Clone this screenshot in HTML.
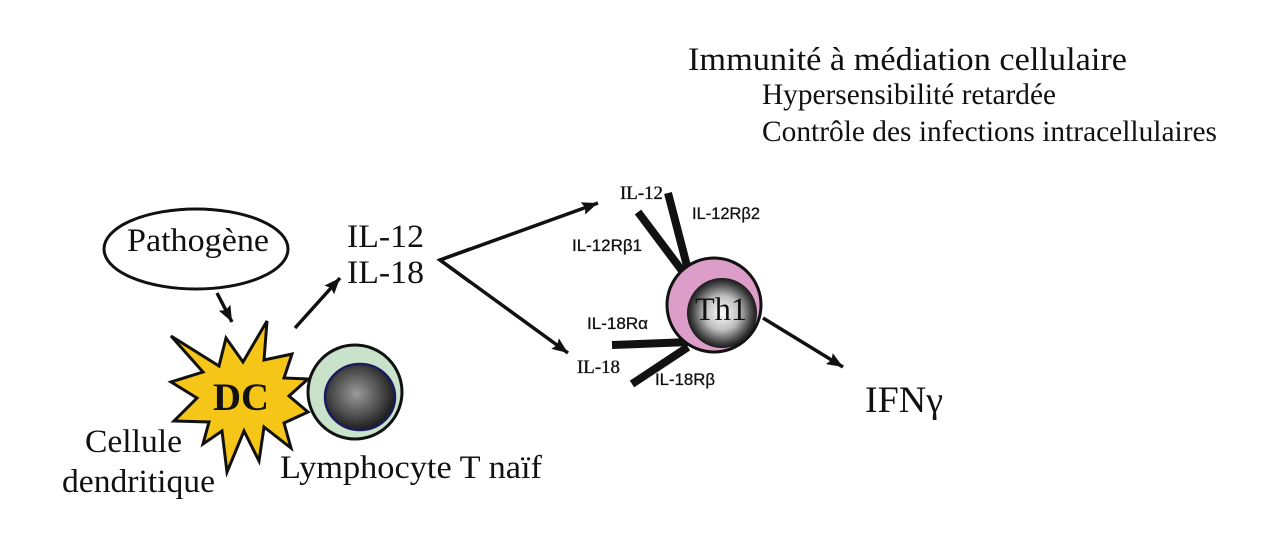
<!DOCTYPE html>
<html>
<head>
<meta charset="utf-8">
<style>
  html,body{margin:0;padding:0;background:#fff;}
  svg{display:block;}
  .serif{font-family:"Liberation Serif","Times New Roman",serif;fill:#111;}
  .sans{font-family:"Liberation Sans","DejaVu Sans",sans-serif;fill:#111;}
</style>
</head>
<body>
<svg width="1280" height="534" viewBox="0 0 1280 534" xmlns="http://www.w3.org/2000/svg">
  <defs>
    <marker id="ah" markerUnits="userSpaceOnUse" markerWidth="18" markerHeight="14" refX="16" refY="6.5" orient="auto">
      <path d="M0,0 L16,6.5 L0,13 L2.5,6.5 z" fill="#111"/>
    </marker>
    <radialGradient id="nucL" cx="45%" cy="45%" r="60%">
      <stop offset="0" stop-color="#9a9a9a"/>
      <stop offset="0.6" stop-color="#4a4a4a"/>
      <stop offset="1" stop-color="#111"/>
    </radialGradient>
    <radialGradient id="nucT" cx="50%" cy="50%" r="55%">
      <stop offset="0" stop-color="#ffffff"/>
      <stop offset="0.45" stop-color="#bdbdbd"/>
      <stop offset="0.8" stop-color="#3a3a3a"/>
      <stop offset="1" stop-color="#000"/>
    </radialGradient>
  </defs>

  <!-- Top right text -->
  <text class="serif" x="688" y="70" font-size="33" textLength="439" lengthAdjust="spacingAndGlyphs">Immunité à médiation cellulaire</text>
  <text class="serif" x="762" y="104" font-size="29.5" textLength="294" lengthAdjust="spacingAndGlyphs">Hypersensibilité retardée</text>
  <text class="serif" x="762" y="141" font-size="29.5" textLength="455" lengthAdjust="spacingAndGlyphs">Contrôle des infections intracellulaires</text>

  <!-- Pathogène -->
  <ellipse cx="196" cy="249" rx="92" ry="40" fill="#fff" stroke="#111" stroke-width="3"/>
  <text class="serif" x="127" y="251" font-size="33" textLength="142" lengthAdjust="spacingAndGlyphs">Pathogène</text>

  <!-- Arrow pathogène -> DC -->
  <line x1="217" y1="293" x2="232" y2="322" stroke="#111" stroke-width="3.5" marker-end="url(#ah)"/>

  <!-- DC star -->
  <polygon points="171,336 219,366 226,338 243,362 267,321 264,360 292,354 284,378 308,379 289,396 308,412 284,423 291,448 264,427 259,461 244,431 227,472 222,431 203,444 209,422 174,421 197,398 171,382 203,372"
           fill="#f5c518" stroke="#111" stroke-width="3" stroke-linejoin="miter"/>
  <text class="serif" x="213" y="410" font-size="39" font-weight="bold" textLength="56" lengthAdjust="spacingAndGlyphs">DC</text>

  <!-- Lymphocyte T naïf -->
  <circle cx="355" cy="392" r="47" fill="#c9e3cb" stroke="#111" stroke-width="3"/>
  <ellipse cx="360" cy="397" rx="35" ry="33" fill="url(#nucL)" stroke="#1c1c5c" stroke-width="2.5"/>

  <!-- Labels bottom left -->
  <text class="serif" x="85" y="452" font-size="33" textLength="97" lengthAdjust="spacingAndGlyphs">Cellule</text>
  <text class="serif" x="62" y="492" font-size="33" textLength="153" lengthAdjust="spacingAndGlyphs">dendritique</text>
  <text class="serif" x="280" y="478" font-size="33" textLength="262" lengthAdjust="spacingAndGlyphs">Lymphocyte T naïf</text>

  <!-- Arrow DC -> IL-12 -->
  <line x1="295" y1="328" x2="340" y2="278" stroke="#111" stroke-width="3.5" marker-end="url(#ah)"/>

  <!-- IL-12 / IL-18 -->
  <text class="serif" x="347" y="247" font-size="33" textLength="77" lengthAdjust="spacingAndGlyphs">IL-12</text>
  <text class="serif" x="347" y="283" font-size="33" textLength="77" lengthAdjust="spacingAndGlyphs">IL-18</text>

  <!-- Branch arrows -->
  <line x1="440" y1="260" x2="598" y2="203" stroke="#111" stroke-width="3.5" marker-end="url(#ah)"/>
  <line x1="440" y1="260" x2="568" y2="353" stroke="#111" stroke-width="3.5" marker-end="url(#ah)"/>
  <polyline points="470,249 440,260 470,282" fill="none" stroke="#111" stroke-width="3.5" stroke-linejoin="miter"/>

  <!-- Small cytokine labels -->
  <text class="serif" x="620" y="199" font-size="19" stroke="#111" stroke-width="0.35" textLength="43" lengthAdjust="spacingAndGlyphs">IL-12</text>
  <text class="serif" x="577" y="373" font-size="19" stroke="#111" stroke-width="0.35" textLength="43" lengthAdjust="spacingAndGlyphs">IL-18</text>

  <!-- Receptor bars -->
  <line x1="668" y1="193" x2="687" y2="266" stroke="#111" stroke-width="8"/>
  <line x1="638" y1="212" x2="683" y2="272" stroke="#111" stroke-width="8"/>
  <line x1="612" y1="345" x2="690" y2="342" stroke="#111" stroke-width="8"/>
  <line x1="632" y1="384" x2="688" y2="347" stroke="#111" stroke-width="8"/>

  <!-- Th1 cell -->
  <circle cx="714" cy="305" r="47" fill="#dc9dc8" stroke="#111" stroke-width="3"/>
  <circle cx="722" cy="313" r="35" fill="url(#nucT)"/>
  <text class="serif" x="695" y="320" font-size="33" textLength="52" lengthAdjust="spacingAndGlyphs">Th1</text>

  <!-- Receptor labels -->
  <text class="sans" x="692" y="219" font-size="16.5" stroke="#111" stroke-width="0.3" textLength="68" lengthAdjust="spacingAndGlyphs">IL-12Rβ2</text>
  <text class="sans" x="572" y="251" font-size="16.5" stroke="#111" stroke-width="0.3" textLength="70" lengthAdjust="spacingAndGlyphs">IL-12Rβ1</text>
  <text class="sans" x="587" y="329" font-size="16.5" stroke="#111" stroke-width="0.3" textLength="61" lengthAdjust="spacingAndGlyphs">IL-18Rα</text>
  <text class="sans" x="655" y="385" font-size="16.5" stroke="#111" stroke-width="0.3" textLength="60" lengthAdjust="spacingAndGlyphs">IL-18Rβ</text>

  <!-- Th1 -> IFNγ -->
  <line x1="763" y1="318" x2="843" y2="367" stroke="#111" stroke-width="3.5" marker-end="url(#ah)"/>
  <text class="serif" x="865" y="412" font-size="37" textLength="78" lengthAdjust="spacingAndGlyphs">IFNγ</text>
</svg>
</body>
</html>
